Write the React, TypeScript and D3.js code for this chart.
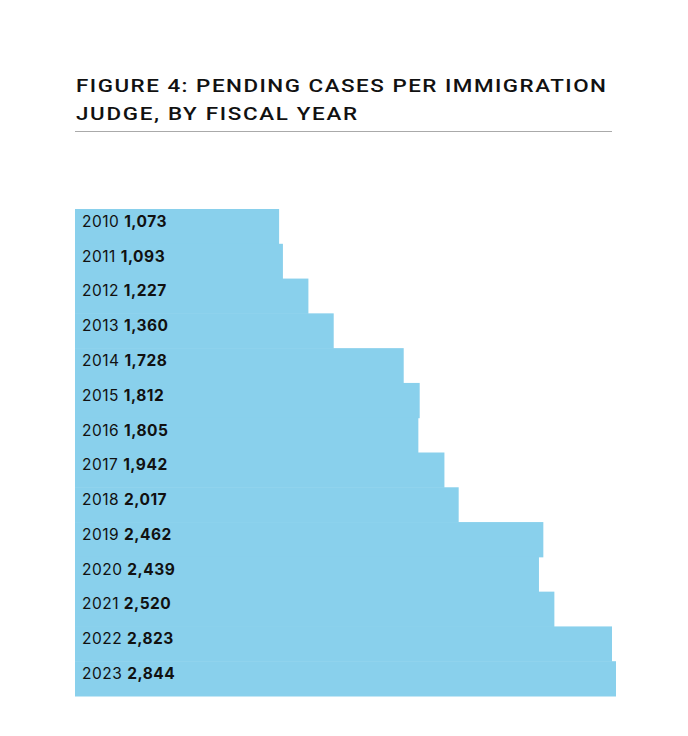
import React from "react";
import * as d3 from "d3";

const years = ["2010","2011","2012","2013","2014","2015","2016","2017","2018","2019","2020","2021","2022","2023"];
const pending = [1073,1093,1227,1360,1728,1812,1805,1942,2017,2462,2439,2520,2823,2844];
const titleLines = ["FIGURE 4: PENDING CASES PER IMMIGRATION", "JUDGE, BY FISCAL YEAR"];
const titleWidths = [530, 281];

const W = 688, H = 736;
const BAR_COLOR = "#89d0ec";
const TITLE_SX = 1.28;

export default function App() {
  const x = d3.scaleLinear().domain([0, 2844]).range([75, 616]);
  const y = d3.scaleBand().domain(years).range([209, 696]).padding(0);
  const fmt = d3.format(",");
  const titleFont = "Roboto, 'Liberation Sans', Arial, sans-serif";
  const font = "Inter, 'Liberation Sans', Arial, sans-serif";
  return (
    <svg width={W} height={H} style={{ position: "absolute", left: 0, top: 0, background: "#fff" }}>
      <g transform={`translate(76,0) scale(${TITLE_SX},1)`}>
        {titleLines.map((t, i) => (
          <text key={i} x={0} y={92 + i * 28.5} fontFamily={titleFont} fontWeight={500} fontSize={17.5}
            textLength={titleWidths[i] / TITLE_SX} lengthAdjust="spacing" fill="#111">
            {t}
          </text>
        ))}
      </g>
      <line x1={75} x2={612} y1={131.5} y2={131.5} stroke="#aaa" strokeWidth={1} />
      {years.map((yr, i) => (
        <rect key={yr} x={x(0)} y={y(yr)!} width={x(pending[i]) - x(0)} height={y.bandwidth() + 0.5} fill={BAR_COLOR} />
      ))}
      {years.map((yr, i) => (
        <text key={"l" + yr} x={82} y={y(yr)! + 17.8} fontFamily={font} fontSize={15.5} letterSpacing={0.5} fill="#111">
          <tspan fontWeight={400}>{yr} </tspan>
          <tspan fontWeight={700}>{fmt(pending[i])}</tspan>
        </text>
      ))}
    </svg>
  );
}
